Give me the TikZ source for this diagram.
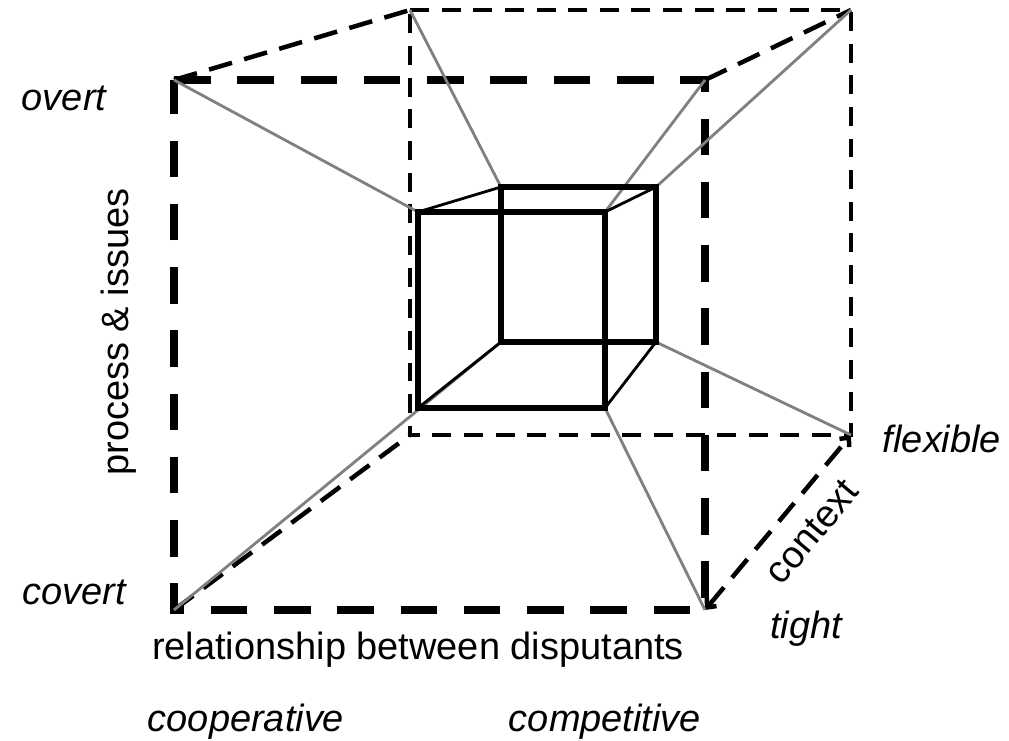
\documentclass[tikz,border=0pt]{standalone}
\usepackage{fontspec}
\setmainfont{Liberation Sans}
\usetikzlibrary{arrows.meta}
\tikzset{
  frontedge/.style={line width=5.9pt, dash pattern=on 26pt off 19pt, black},
  backedge/.style={line width=2.8pt, dash pattern=on 13.5pt off 9pt, black},
  depthedge/.style={line width=3.2pt, dash pattern=on 17pt off 9pt, black},
  innerfront/.style={line width=4.3pt, black, line join=miter},
  innerback/.style={line width=3.6pt, black, line join=miter},
  innerlink/.style={line width=2pt, black},
  ray/.style={line width=2pt, draw=black!50},
  axis/.style={font=\fontsize{27}{32}\selectfont, inner sep=0pt},
  pole/.style={font=\fontsize{27}{32}\selectfont\itshape, inner sep=0pt, anchor=base}
}

\begin{document}
\begin{tikzpicture}[x=0.025cm, y=-0.025cm]
  \useasboundingbox (0,0) rectangle (1009,741);

  \coordinate (oftl) at (174,80);
  \coordinate (oftr) at (705,80);
  \coordinate (ofbr) at (705,610);
  \coordinate (ofbl) at (174,610);
  \coordinate (obtl) at (410,10);
  \coordinate (obtr) at (851,10);
  \coordinate (obbr) at (851,435);
  \coordinate (obbl) at (410,435);
  \coordinate (iftl) at (418,212);
  \coordinate (iftr) at (605,212);
  \coordinate (ifbr) at (605,408);
  \coordinate (ifbl) at (418,408);
  \coordinate (ibtl) at (501,187);
  \coordinate (ibtr) at (656,187);
  \coordinate (ibbr) at (656,342);
  \coordinate (ibbl) at (501,342);

  \draw[backedge] (obtl) -- (obtr) -- (obbr) -- (obbl) -- cycle;
  \draw[depthedge] (oftl) -- (obtl);
  \draw[depthedge] (oftr) -- (obtr);
  \draw[depthedge] (ofbl) -- (obbl);
  \draw[depthedge, {Straight Barb[length=5pt,width=9pt]}-{Straight Barb[length=5pt,width=9pt]}] (ofbr) -- (obbr);
  \draw[frontedge] (oftl) -- (oftr) -- (ofbr) -- (ofbl) -- cycle;

  \draw[ray] (oftl) -- (iftl);
  \draw[ray] (obtl) -- (ibtl);
  \draw[ray] (obtr) -- (ibtr);
  \draw[ray] (oftr) -- (iftr);
  \draw[ray] (obbr) -- (ibbr);
  \draw[ray] (ofbr) -- (ifbr);
  \draw[ray] (ofbl) -- (ibbl);

  \draw[innerback] (ibtl) -- (ibtr) -- (ibbr) -- (ibbl) -- cycle;
  \draw[innerlink] (iftl) -- (ibtl);
  \draw[innerlink] (iftr) -- (ibtr);
  \draw[innerlink] (ifbr) -- (ibbr);
  \draw[innerlink] (ifbl) -- (ibbl);
  \draw[innerfront] (iftl) -- (iftr) -- (ifbr) -- (ifbl) -- cycle;

  \node[pole] (overt) at (64,111) {overt};
  \node[pole] (covert) at (74,605) {covert};
  \node[pole] (coop) at (246,732) {cooperative};
  \node[pole] (comp) at (605,732) {competitive};
  \node[pole] (flex) at (942,453) {flexible};
  \node[pole] (tight) at (806,639) {tight};
  \node[axis, rotate=90] (proc) at (119,332) {process \& issues};
  \node[axis, anchor=base] (rel) at (418,660) {relationship between disputants};
  \node[axis, rotate=50] (ctx) at (812,532) {context};
\end{tikzpicture}
\end{document}
